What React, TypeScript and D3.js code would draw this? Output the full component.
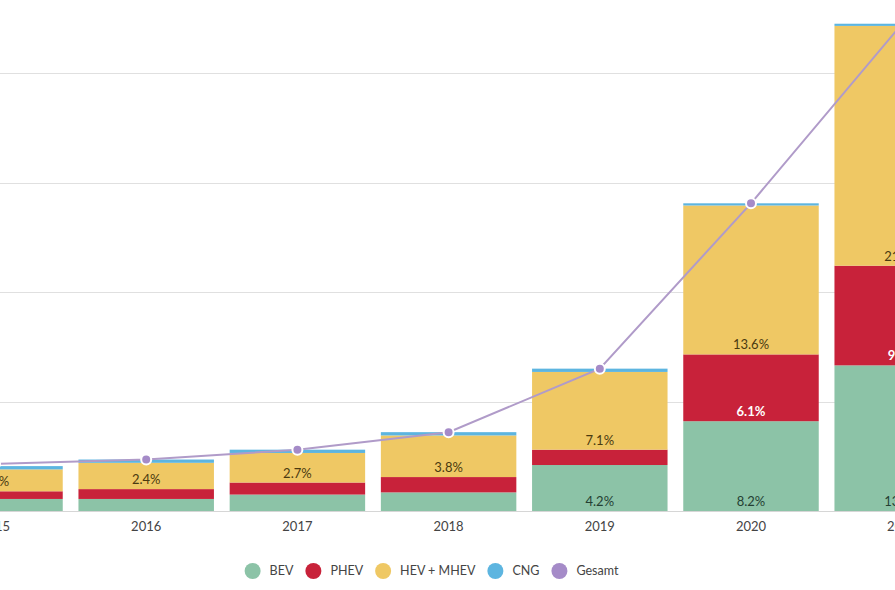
import React, { useEffect, useRef } from "react";
import * as d3 from "d3";

const years = ["2015", "2016", "2017", "2018", "2019", "2020", "2021"];
const bev = [1.1, 1.1, 1.5, 1.7, 4.2, 8.2, 13.3];
const phev = [0.7, 0.9, 1.1, 1.4, 1.4, 6.1, 9.1];
const hev = [2.0, 2.4, 2.7, 3.8, 7.1, 13.6, 21.9];
const cng = [0.3, 0.3, 0.3, 0.3, 0.3, 0.2, 0.2];
const gesamt = [4.3, 4.7, 5.6, 7.2, 13.0, 28.1, 44.5];
const yTicks = [0, 10, 20, 30, 40];

const seriesNames = ["BEV", "PHEV", "HEV + MHEV", "CNG"];
const seriesColors = ["#8cc3a7", "#c8223a", "#efc864", "#5db5e0"];
const labelColors = ["#243f33", "#ffffff", "#4a3a10", "#333"];
const lineColor = "#b09bc9";
const pointColor = "#a58bc8";

const W = 895;
const H = 590;

export default function App() {
  const ref = useRef<SVGSVGElement | null>(null);

  useEffect(() => {
    const svg = d3.select(ref.current);
    svg.selectAll("*").remove();
    const font = "Lato, 'Open Sans', sans-serif";

    const x = d3
      .scaleBand<string>()
      .domain(years)
      .range([-80.6, -80.6 + 7 * 151.2])
      .paddingInner(0.104)
      .paddingOuter(0.052);
    const y = d3.scaleLinear().domain([0, 40]).range([511, 73]);

    // gridlines
    svg
      .append("g")
      .selectAll("line")
      .data(yTicks)
      .join("line")
      .attr("x1", 0)
      .attr("x2", W)
      .attr("y1", (d) => Math.round(y(d)) + 0.5)
      .attr("y2", (d) => Math.round(y(d)) + 0.5)
      .attr("stroke", (d) => (d === 0 ? "#d6d6d6" : "#e0e0e0"))
      .attr("stroke-width", 1);

    const table = years.map((yr, i) => ({
      year: yr,
      BEV: bev[i],
      PHEV: phev[i],
      "HEV + MHEV": hev[i],
      CNG: cng[i],
    }));
    const stack = d3.stack<any>().keys(seriesNames);
    const stacked = stack(table);

    const gBars = svg.append("g");
    stacked.forEach((layer, si) => {
      gBars
        .append("g")
        .attr("fill", seriesColors[si])
        .selectAll("rect")
        .data(layer)
        .join("rect")
        .attr("x", (d: any) => x(d.data.year)!)
        .attr("width", x.bandwidth())
        .attr("y", (d: any) => y(d[1]))
        .attr("height", (d: any) => y(d[0]) - y(d[1]));
    });

    // labels
    const gLab = svg.append("g").attr("font-family", font).attr("font-size", 13).attr("text-anchor", "middle");
    stacked.forEach((layer, si) => {
      if (si === 3) return;
      layer.forEach((d: any) => {
        const h = y(d[0]) - y(d[1]);
        if (h < 20) return;
        const v = d[1] - d[0];
        gLab
          .append("text")
          .attr("x", x(d.data.year)! + x.bandwidth() / 2)
          .attr("y", y(d[0]) - 5)
          .attr("fill", labelColors[si])
          .attr("font-weight", si === 1 ? 700 : 400)
          .text(d3.format(".1f")(v) + "%");
      });
    });

    // line
    const line = d3
      .line<number>()
      .x((_, i) => x(years[i])! + x.bandwidth() / 2)
      .y((d) => y(d));
    svg
      .append("path")
      .datum(gesamt)
      .attr("d", line)
      .attr("fill", "none")
      .attr("stroke", lineColor)
      .attr("stroke-width", 2);
    svg
      .append("g")
      .selectAll("circle")
      .data(gesamt)
      .join("circle")
      .attr("cx", (_, i) => x(years[i])! + x.bandwidth() / 2)
      .attr("cy", (d) => y(d))
      .attr("r", 5)
      .attr("fill", pointColor)
      .attr("stroke", "#fff")
      .attr("stroke-width", 2);

    // x axis labels
    svg
      .append("g")
      .attr("font-family", font)
      .attr("font-size", 13)
      .attr("fill", "#444")
      .attr("text-anchor", "middle")
      .selectAll("text")
      .data(years)
      .join("text")
      .attr("x", (d) => x(d)! + x.bandwidth() / 2)
      .attr("y", 531)
      .text((d) => d);

    // legend
    const legendItems = [...seriesNames, "Gesamt"];
    const legendColors = [...seriesColors, pointColor];
    const gLeg = svg.append("g").attr("font-family", font).attr("font-size", 12.5);
    let cx = 0;
    const r = 8;
    legendItems.forEach((name, i) => {
      const g = gLeg.append("g").attr("transform", `translate(${cx},0)`);
      g.append("circle").attr("cx", r).attr("cy", 0).attr("r", r).attr("fill", legendColors[i]);
      const t = g
        .append("text")
        .attr("x", 2 * r + 9)
        .attr("y", 4)
        .attr("fill", "#444")
        .text(name);
      const tw = (t.node() as SVGTextElement).getComputedTextLength();
      cx += 2 * r + 9 + tw + 12;
    });
    const total = cx - 12;
    gLeg.attr("transform", `translate(${431.5 - total / 2},571)`);
  }, []);

  return (
    <div style={{ position: "fixed", left: 0, top: 0, width: W, height: H, overflow: "hidden", background: "#fff" }}>
      <svg ref={ref} width={W} height={H} style={{ display: "block" }} />
    </div>
  );
}
